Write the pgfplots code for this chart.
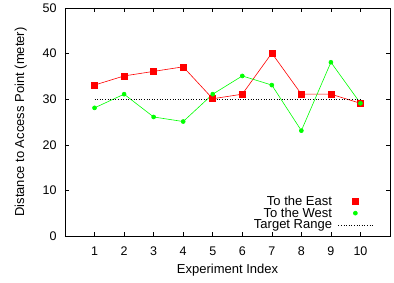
\documentclass[border=0pt]{standalone}
\usepackage{fontspec}
\setmainfont{Liberation Sans}
\usepackage{pgfplots}
\pgfplotsset{compat=1.18}
\definecolor{gpred}{RGB}{255,0,0}
\definecolor{gpgreen}{RGB}{0,255,0}
\begin{document}
\begin{tikzpicture}
\useasboundingbox (-65pt,-47pt) rectangle (329pt,236pt);
\begin{axis}[
  at={(0,0)}, anchor=south west,
  scale only axis, width=325pt, height=228pt,
  xmin=0, xmax=11, ymin=0, ymax=50,
  xtick={1,2,3,4,5,6,7,8,9,10},
  ytick={0,10,20,30,40,50},
  tick align=inside, tick pos=both,
  major tick length=4pt,
  tick style={black, line width=0.5pt},
  axis line style={line width=0.8pt},
  font=\fontsize{13}{15}\selectfont,
  ticklabel style={font=\fontsize{12.5}{14}\selectfont},
  xticklabel style={yshift=-7pt},
  yticklabel style={xshift=-5pt},
  /pgf/number format/assume math mode=true,
  xlabel={Experiment Index},
  ylabel={Distance to Access Point (meter)},
  xlabel style={font=\fontsize{13}{15}\selectfont, yshift=-2pt},
  ylabel style={font=\fontsize{13}{15}\selectfont, yshift=9pt},
  legend cell align=right,
  legend plot pos=right,
  legend style={draw=none, fill=none, at={(0.955,0.012)}, anchor=south east,
    font=\fontsize{13}{15}\selectfont, row sep=-3pt, inner sep=1pt,
    nodes={inner xsep=0pt}, column sep=6pt},
]
\addplot[gpred, line width=0.6pt, mark=square*, mark size=3pt,
  legend image code/.code={\draw[gpred, mark=square*, mark size=3pt] plot coordinates {(0.6cm,0cm)};}]
  coordinates {(1,33.1)(2,35.1)(3,36.1)(4,37.1)(5,30.1)(6,31.1)(7,40.1)(8,31.1)(9,31.1)(10,29.1)};
\addlegendentry{To the East}
\addplot[gpgreen, line width=0.6pt, mark=*, mark size=2pt,
  legend image code/.code={\draw[gpgreen, mark=*, mark size=2pt] plot coordinates {(0.6cm,0cm)};}]
  coordinates {(1,28.1)(2,31.1)(3,26.1)(4,25.1)(5,31.1)(6,35.1)(7,33.1)(8,23.1)(9,38.1)(10,29.1)};
\addlegendentry{To the West}
\addplot[black, line width=0.6pt, dotted, mark=none,
  legend image code/.code={\draw[black, line width=0.6pt, dotted] (0cm,0cm) -- (1.25cm,0cm);}]
  coordinates {(1,30)(10,30)};
\addlegendentry{Target Range}
\end{axis}
\end{tikzpicture}
\end{document}
